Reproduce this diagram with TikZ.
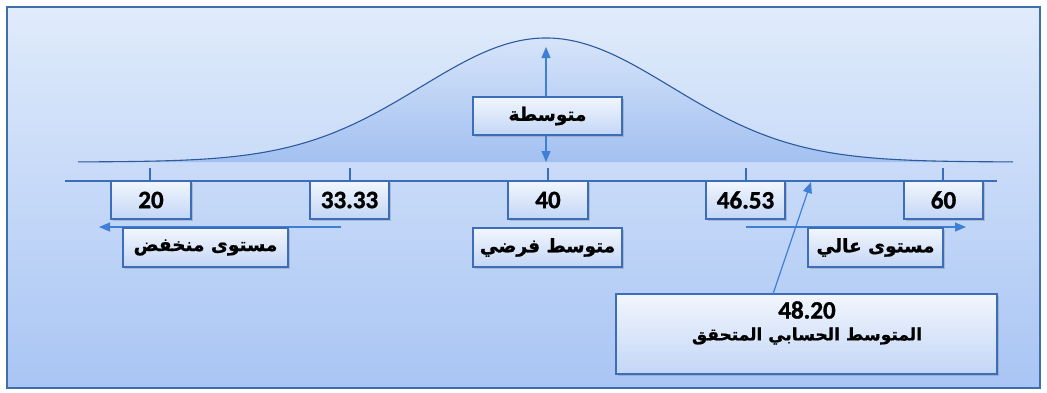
\documentclass[tikz,border=0pt]{standalone}
\usepackage{fontspec}
\setmainfont{Carlito}
\newfontfamily\numfamily{Carlito}[BoldFeatures={FakeBold=1.3}]
\newfontfamily\arabicfont[Script=Arabic, BoldFeatures={FakeBold=0.9}]{DejaVu Sans}
\TeXXeTstate=1
\usetikzlibrary{arrows.meta,shadows}
\definecolor{bgtop}{HTML}{E0EBFB}
\definecolor{bgbot}{HTML}{A9C5F4}
\definecolor{framec}{HTML}{3F6FA8}
\definecolor{linec}{HTML}{3C6DB8}
\definecolor{curvec}{HTML}{2E5A9E}
\definecolor{arrowc}{HTML}{3F7FD6}
\definecolor{boxtop}{HTML}{F2F6FD}
\definecolor{boxbot}{HTML}{C3D6F6}
\definecolor{areatop}{HTML}{D6E4FA}
\definecolor{areabot}{HTML}{A2C0F0}
\tikzset{
  box/.style={draw=linec, line width=1.2pt, top color=boxtop, bottom color=boxbot,
    inner sep=0pt, drop shadow={shadow xshift=1.5pt, shadow yshift=-1.8pt, opacity=0.35}},
  numfont/.style={font=\numfamily\bfseries\fontsize{25}{28}\selectfont},
  arfont/.style={font=\arabicfont\bfseries\fontsize{18.5}{22}\selectfont},
  numbox/.style={box, numfont, minimum height=38pt},
  arbox/.style={box, arfont, minimum height=39pt},
  plain/.style={inner sep=0pt},
  conn/.style={draw=arrowc, line width=1.2pt},
  tip/.style={-{Triangle[length=11pt,width=9pt]}},
  axisline/.style={draw=linec, line width=1.2pt}
}
\begin{document}
\begin{tikzpicture}[x=1pt,y=-1pt]
\useasboundingbox (0,0) rectangle (1047,392);
\fill[white] (0,0) rectangle (1047,392);
\shade[top color=bgtop, bottom color=bgbot] (7,7) rectangle (1040,388);
\draw[framec, line width=1.3pt] (7,7) rectangle (1040,388);
% bell curve
\shade[top color=areatop, bottom color=areabot]
  plot[domain=78:1013, samples=200, smooth] (\x, {162-124*exp(-0.5*((\x-546)/125)^2)}) -- (1013,162) -- (78,162) -- cycle;
\draw[curvec, line width=1.1pt]
  plot[domain=78:1013, samples=200, smooth] (\x, {162-124*exp(-0.5*((\x-546)/125)^2)});
% axis
\coordinate (axL) at (65,181);
\coordinate (axR) at (997,181);
\draw[axisline] (axL) -- (axR);
\foreach \t in {150,350,548,746,943} \draw[axisline] (\t,168) -- (\t,181);
% coordinates for connectors
\coordinate (peak) at (546,47);
\coordinate (base) at (546,162);
\coordinate (lowS) at (341,227);
\coordinate (lowE) at (99,227);
\coordinate (highS) at (746,227);
\coordinate (highE) at (966,227);
\coordinate (actS) at (773,294);
\coordinate (actE) at (811,182);
% boxes
\node[numbox, minimum width=80pt] (n20) at (151,200) {20};
\node[numbox, minimum width=79pt] (n33) at (349.5,200) {33.33};
\node[numbox, minimum width=80pt] (n40) at (548,200) {40};
\node[numbox, minimum width=79pt] (n46) at (745.5,200) {46.53};
\node[numbox, minimum width=79pt] (n60) at (943.5,200) {60};
% arrows
\draw[conn, tip] (lowS) -- (lowE);
\draw[conn, tip] (highS) -- (highE);
\node[arbox, minimum width=165pt] (low) at (205.5,247.5) {\beginR مستوى منخفض\endR};
\node[arbox, minimum width=149pt] (hyp) at (547.5,247.5) {\beginR متوسط فرضي\endR};
\node[arbox, minimum width=135pt] (high) at (875.5,247.5) {\beginR مستوى عالي\endR};
\node[arbox, minimum width=149pt, minimum height=38pt] (mid) at (547.5,116) {\beginR متوسطة\endR};
\node[box, minimum width=381pt, minimum height=80pt] (act) at (806.5,334) {};
\node[plain, numfont] (actnum) at (807,310) {48.20};
\node[plain, font=\arabicfont\bfseries\fontsize{17}{21}\selectfont] (actlbl) at (807,336) {\beginR المتوسط الحسابي المتحقق\endR};
\draw[conn, tip] (mid.north -| peak) -- (peak);
\draw[conn, tip] (mid.south -| base) -- (base);
\draw[conn, tip] (actS) -- (actE);
\end{tikzpicture}
\end{document}
